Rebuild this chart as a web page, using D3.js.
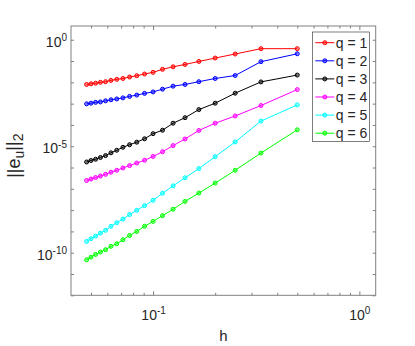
<!DOCTYPE html>
<html>
<head>
<meta charset="utf-8">
<script src="https://cdn.jsdelivr.net/npm/d3@7"></script>
<style>
  body { margin: 0; background: #fff; }
  text { font-family: "Liberation Sans", Arial, Helvetica, sans-serif; fill: #262626; }
  .axis path, .axis line { stroke: #808080; }
</style>
</head>
<body>
<div id="chart"></div>
<script>
var width = 415,
    height = 346,
    margin = {top: 26, right: 39.3, bottom: 50.7, left: 71};

// mesh sizes h = 1/n, n = 2..21
var hValues = [1/2, 1/3, 1/4, 1/5, 1/6, 1/7, 1/8, 1/9, 1/10, 1/11, 1/12, 1/13, 1/14, 1/15, 1/16, 1/17, 1/18, 1/19, 1/20, 1/21];

// log10 of the error
var errQ1 = [-0.42, -0.42, -0.67, -0.86, -1.02, -1.16, -1.27, -1.39, -1.53, -1.61, -1.69, -1.75, -1.82, -1.86, -1.91, -1.97, -2.00, -2.04, -2.07, -2.10];
var errQ2 = [-0.66, -1.03, -1.68, -1.82, -1.97, -2.10, -2.18, -2.32, -2.45, -2.52, -2.60, -2.66, -2.73, -2.78, -2.82, -2.87, -2.92, -2.94, -2.98, -3.01];
var errQ3 = [-1.66, -1.98, -2.51, -2.98, -3.28, -3.66, -3.92, -4.25, -4.41, -4.65, -4.81, -4.93, -5.05, -5.19, -5.31, -5.44, -5.53, -5.61, -5.67, -5.74];
var errQ4 = [-2.34, -3.09, -3.58, -3.92, -4.26, -4.66, -4.97, -5.26, -5.48, -5.66, -5.79, -5.91, -6.02, -6.13, -6.22, -6.32, -6.40, -6.47, -6.54, -6.61];
var errQ5 = [-3.06, -3.82, -4.80, -5.49, -6.05, -6.48, -6.86, -7.21, -7.54, -7.79, -8.01, -8.21, -8.42, -8.59, -8.76, -8.95, -9.08, -9.22, -9.34, -9.47];
var errQ6 = [-4.23, -5.32, -6.13, -6.73, -7.20, -7.59, -7.96, -8.26, -8.53, -8.76, -9.00, -9.19, -9.39, -9.58, -9.70, -9.86, -9.97, -10.08, -10.21, -10.33];

var seriesNames = ["q = 1", "q = 2", "q = 3", "q = 4", "q = 5", "q = 6"];
var seriesColors = ["#ff0000", "#0000ff", "#000000", "#ff00ff", "#00ffff", "#00ff00"];

var xMajorTicks = [0.1, 1];
var xMinorTicks = [0.05, 0.06, 0.07, 0.08, 0.09, 0.2, 0.3, 0.4, 0.5, 0.6, 0.7, 0.8, 0.9];
var yTicks = [1e-12, 1e-11, 1e-10, 1e-9, 1e-8, 1e-7, 1e-6, 1e-5, 1e-4, 1e-3, 1e-2, 1e-1, 1e0];
var yLabelled = [1e-10, 1e-5, 1e0];

var series = [errQ1, errQ2, errQ3, errQ4, errQ5, errQ6].map(function(s, i) {
    return {
        name: seriesNames[i],
        color: seriesColors[i],
        values: s.map(function(e, j) { return {h: hValues[j], err: Math.pow(10, e)}; })
    };
});

var w = width - margin.left - margin.right,
    h = height - margin.top - margin.bottom;

var x = d3.scaleLog()
    .domain([0.04, 1.2])
    .range([0, w]);

var y = d3.scaleLog()
    .domain([1e-12, Math.pow(10, 0.645)])
    .range([h, 0]);

var svg = d3.select("#chart").append("svg")
    .attr("width", width)
    .attr("height", height)
  .append("g")
    .attr("transform", "translate(" + margin.left + "," + margin.top + ")");

// box
svg.append("rect")
    .attr("width", w)
    .attr("height", h)
    .attr("fill", "none")
    .attr("stroke", "#808080")
    .attr("stroke-width", 1);

function tickLabel(sel, exponent) {
    sel.text(null);
    sel.append("tspan").text("10");
    sel.append("tspan")
        .attr("dy", "-0.55em")
        .style("font-size", "10px")
        .text(exponent);
}

// bottom and top ticks
[[d3.axisBottom, h, -1], [d3.axisTop, 0, 1]].forEach(function(a) {
    var major = svg.append("g")
        .attr("class", "axis")
        .attr("transform", "translate(0," + a[1] + ")")
        .call(a[0](x).tickValues(xMajorTicks).tickSizeInner(-4).tickSizeOuter(0).tickPadding(9).tickFormat(""));
    major.select(".domain").remove();
    svg.append("g")
        .attr("class", "axis")
        .attr("transform", "translate(0," + a[1] + ")")
        .call(a[0](x).tickValues(xMinorTicks).tickSizeInner(-2.5).tickSizeOuter(0).tickFormat(""))
        .select(".domain").remove();
    if (a[1] === h) {
        major.selectAll(".tick text")
            .style("font-size", "14px")
            .attr("dy", "1.1em")
            .each(function(d) { tickLabel(d3.select(this), String(Math.round(Math.log10(d)))); });
    } else {
        major.selectAll(".tick text").remove();
    }
});

// left and right ticks
[[d3.axisLeft, 0], [d3.axisRight, w]].forEach(function(a) {
    var g = svg.append("g")
        .attr("class", "axis")
        .attr("transform", "translate(" + a[1] + ",0)")
        .call(a[0](y).tickValues(yTicks).tickSizeInner(-3).tickSizeOuter(0).tickPadding(9).tickFormat(""));
    g.select(".domain").remove();
    if (a[1] === 0) {
        g.selectAll(".tick text")
            .filter(function(d) { return yLabelled.indexOf(d) < 0; })
            .remove();
        g.selectAll(".tick text")
            .style("font-size", "14px")
            .attr("x", -4)
            .attr("dy", "0.45em")
            .each(function(d) { tickLabel(d3.select(this), String(Math.round(Math.log10(d)))); });
    } else {
        g.selectAll(".tick text").remove();
    }
});

var line = d3.line()
    .x(function(d) { return x(d.h); })
    .y(function(d) { return y(d.err); });

var sg = svg.selectAll(".series")
    .data(series)
  .enter().append("g")
    .attr("class", "series");

sg.append("path")
    .attr("d", function(d) { return line(d.values); })
    .attr("fill", "none")
    .attr("stroke", function(d) { return d.color; })
    .attr("stroke-width", 1);

sg.selectAll("circle")
    .data(function(d) { return d.values.map(function(v) { return {h: v.h, err: v.err, color: d.color}; }); })
  .enter().append("circle")
    .attr("cx", function(d) { return x(d.h); })
    .attr("cy", function(d) { return y(d.err); })
    .attr("r", 2)
    .attr("fill", function(d) { return d.color; })
    .attr("fill-opacity", 0.45)
    .attr("stroke", function(d) { return d.color; })
    .attr("stroke-width", 1);

// axis labels
svg.append("text")
    .attr("x", w / 2)
    .attr("y", h + 46)
    .attr("text-anchor", "middle")
    .style("font-size", "15px")
    .text("h");

var yl = svg.append("text")
    .attr("transform", "translate(" + (-51) + "," + (h / 2 - 5) + ") rotate(-90)")
    .attr("text-anchor", "middle")
    .style("font-size", "18px");
yl.append("tspan").text("||e");
yl.append("tspan").attr("dy", "0.3em").style("font-size", "14px").text("u");
yl.append("tspan").attr("dy", "-0.3em").text("||");
yl.append("tspan").attr("dy", "0.3em").style("font-size", "14px").text("2");

// legend
var legend = svg.append("g")
    .attr("transform", "translate(" + (312.3 - margin.left) + "," + (32 - margin.top) + ")");

legend.append("rect")
    .attr("width", 57.4)
    .attr("height", 109.3)
    .attr("fill", "#fff")
    .attr("stroke", "#262626")
    .attr("stroke-width", 0.6);

var item = legend.selectAll(".item")
    .data(series)
  .enter().append("g")
    .attr("class", "item")
    .attr("transform", function(d, i) { return "translate(0," + (10.7 + i * 18.1) + ")"; });

item.append("line")
    .attr("x1", 3)
    .attr("x2", 22)
    .attr("stroke", function(d) { return d.color; })
    .attr("stroke-width", 1);

item.append("circle")
    .attr("cx", 12.5)
    .attr("r", 2)
    .attr("fill", function(d) { return d.color; })
    .attr("fill-opacity", 0.45)
    .attr("stroke", function(d) { return d.color; });

item.append("text")
    .attr("x", 23.5)
    .attr("dy", "0.36em")
    .style("font-size", "14px")
    .text(function(d) { return d.name; });
</script>
</body>
</html>
